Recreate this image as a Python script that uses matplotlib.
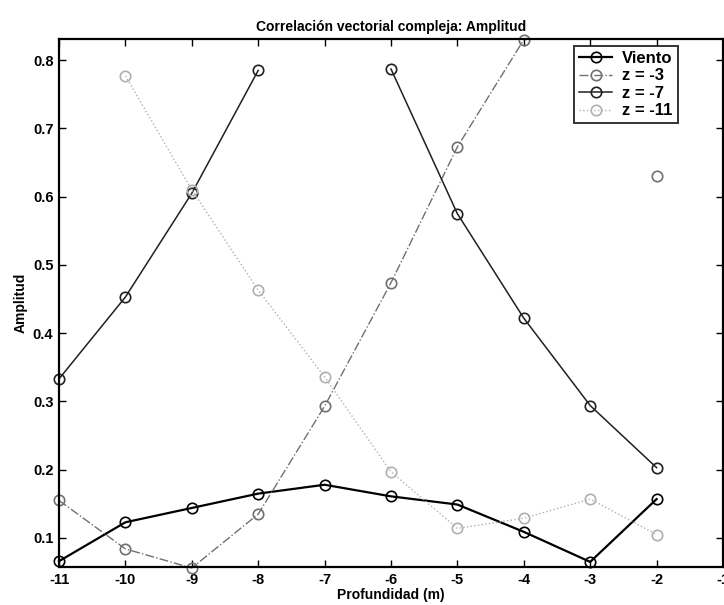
import numpy as np
import matplotlib
matplotlib.use("Agg")
import matplotlib.pyplot as plt

plt.rcParams['font.family'] = ['Liberation Sans', 'DejaVu Sans']
plt.rcParams['axes.unicode_minus'] = False

# Depths (m) and amplitude of the complex vector correlation
depth = [-11, -10, -9, -8, -7, -6, -5, -4, -3, -2]
viento = [0.066, 0.123, 0.144, 0.165, 0.178, 0.161, 0.149, 0.109, 0.065, 0.157]
z3 = [0.155, 0.084, 0.056, 0.135, 0.293, 0.474, 0.673, 0.830, np.nan, 0.630]
z7 = [0.333, 0.453, 0.605, 0.785, np.nan, 0.787, 0.575, 0.422, 0.294, 0.203]
z11 = [np.nan, 0.777, 0.610, 0.463, 0.336, 0.197, 0.114, 0.129, 0.157, 0.105]

series = [
    ("Viento", viento, dict(color="black", ls="-", lw=1.6)),
    ("z = -3", z3, dict(color="#707070", ls="-.", lw=1.0)),
    ("z = -7", z7, dict(color="#202020", ls="-", lw=1.1)),
    ("z = -11", z11, dict(color="#b0b0b0", ls=":", lw=1.0)),
]

fig = plt.figure(figsize=(7.24, 6.05), dpi=100)
ax = fig.add_axes([59 / 724, 38 / 605, 664 / 724, 528 / 605])

for name, vals, st in series:
    ax.plot(depth, vals, marker="o", markersize=7.5, markerfacecolor="none",
            markeredgecolor=st["color"], markeredgewidth=1.2,
            label=name, clip_on=False, **st)

ax.set_xlim(-11, -1)
ax.set_ylim(0.0575, 0.831)
ax.set_xticks(range(-11, 0))
ax.set_yticks([0.1, 0.2, 0.3, 0.4, 0.5, 0.6, 0.7, 0.8])
ax.set_yticklabels(["0.1", "0.2", "0.3", "0.4", "0.5", "0.6", "0.7", "0.8"])

ax.tick_params(direction="in", top=True, right=True, length=5, width=1,
               labelsize=10.5, pad=4)
for lbl in ax.get_xticklabels() + ax.get_yticklabels():
    lbl.set_fontweight("bold")
for sp in ax.spines.values():
    sp.set_linewidth(1.6)

ax.set_title("Correlación vectorial compleja: Amplitud", fontsize=10,
             fontweight="bold", pad=6)
ax.set_xlabel("Profundidad (m)", fontsize=10, fontweight="bold", labelpad=1)
ax.set_ylabel("Amplitud", fontsize=10, fontweight="bold", labelpad=4)

leg = ax.legend(loc="upper right", bbox_to_anchor=(0.932, 0.987),
                borderaxespad=0,
                prop={"size": 12, "weight": "bold"}, frameon=True,
                fancybox=False, edgecolor="black", handlelength=2.0,
                borderpad=0.3, labelspacing=0.15, handletextpad=0.6)
leg.get_frame().set_linewidth(1.4)

fig.savefig("out.png", dpi=100)
